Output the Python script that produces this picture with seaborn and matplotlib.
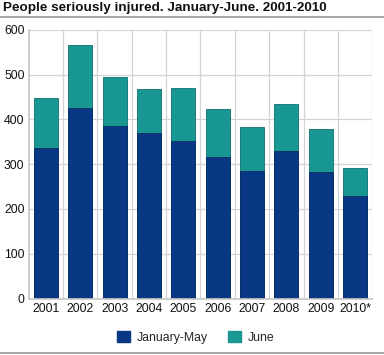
import matplotlib
matplotlib.use("Agg")
import matplotlib.pyplot as plt
import seaborn as sns
import pandas as pd
from matplotlib.patches import Patch
from matplotlib.lines import Line2D

years = ["2001", "2002", "2003", "2004", "2005", "2006", "2007", "2008", "2009", "2010*"]
jan_may = [336, 426, 386, 369, 351, 317, 284, 330, 282, 229]
june = [112, 139, 108, 98, 120, 107, 99, 104, 96, 62]
series_names = ["January-May", "June"]
y_ticks = [0, 100, 200, 300, 400, 500, 600]

c_jm = "#083783"
c_jun = "#199792"

sns.set_theme(style="white")
plt.rcParams["font.family"] = ["Liberation Sans", "DejaVu Sans"]

df = pd.DataFrame({"year": years, "jm": jan_may, "jun": june})
df["total"] = df["jm"] + df["jun"]

fig = plt.figure(figsize=(3.84, 3.55), dpi=100)
ax = fig.add_axes([0.0747, 0.1589, 0.8948, 0.7574])

sns.barplot(data=df, x="year", y="total", color=c_jun, width=0.7, ax=ax,
            edgecolor="#0f6f6b", linewidth=0.6, saturation=1)
sns.barplot(data=df, x="year", y="jm", color=c_jm, width=0.7, ax=ax,
            edgecolor="#062a66", linewidth=0.6, saturation=1)

ax.set_ylim(0, 600)
ax.set_xlim(-0.5, len(years) - 0.5)
ax.set_yticks(y_ticks)
ax.set_yticklabels([str(v) for v in y_ticks])
ax.set_xlabel("")
ax.set_ylabel("")
ax.set_axisbelow(True)
ax.yaxis.grid(True, color="#d4d4d4", linewidth=0.9)
for i in range(len(years)):
    ax.axvline(i + 0.5, color="#d4d4d4", linewidth=0.9, zorder=0)
for s in ["top", "right"]:
    ax.spines[s].set_visible(False)
ax.spines["left"].set_color("#c8c8c8")
ax.spines["bottom"].set_color("#c8c8c8")
ax.tick_params(axis="both", length=0, labelsize=8.8, colors="#111111", pad=3)

fig.text(0.008, 1 - 8.5 / 355, "People seriously injured. January-June. 2001-2010",
         fontsize=9.7, fontweight="bold", ha="left", va="center", color="#111111")
fig.add_artist(Line2D([0, 1], [1 - 16.7 / 355, 1 - 16.7 / 355], color="#999999", linewidth=1.2))
fig.add_artist(Line2D([0, 1], [1 - 352.5 / 355, 1 - 352.5 / 355], color="#999999", linewidth=1.2))

handles = [Patch(facecolor=c_jm, edgecolor=c_jm), Patch(facecolor=c_jun, edgecolor=c_jun)]
fig.legend(handles, series_names, loc="center", bbox_to_anchor=(0.51, 1 - 337.5 / 355),
           ncol=2, frameon=False, fontsize=8.8, handlelength=1.05, handleheight=1.05,
           columnspacing=1.6, handletextpad=0.6)

fig.savefig("out.png", dpi=100)
